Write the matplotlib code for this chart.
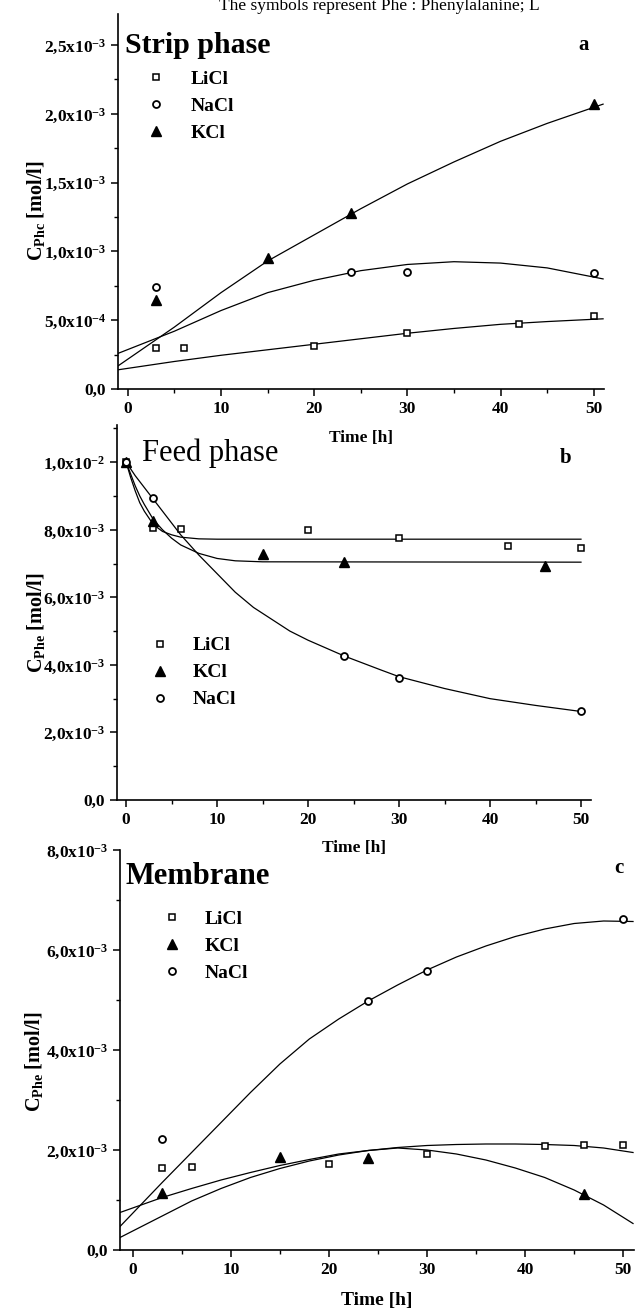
import numpy as np
from matplotlib import pyplot as plt
from matplotlib.ticker import MultipleLocator, FuncFormatter
from matplotlib.lines import Line2D

plt.rcParams['font.family'] = ['Liberation Serif', 'DejaVu Serif']
plt.rcParams['font.weight'] = 'bold'
plt.rcParams['axes.labelweight'] = 'bold'
plt.rcParams['mathtext.fontset'] = 'custom'
plt.rcParams['mathtext.rm'] = 'Liberation Serif:bold'
plt.rcParams['mathtext.bf'] = 'Liberation Serif:bold'
plt.rcParams['mathtext.it'] = 'Liberation Serif:italic:bold'
plt.rcParams['mathtext.default'] = 'rm'

# all concentrations in units of 1e-3 mol/l
# --- a: strip phase ---
a_li_t = [3, 6, 20, 30, 42, 50]
a_li_c = [0.30, 0.30, 0.31, 0.41, 0.475, 0.53]
a_na_t = [3, 24, 30, 50]
a_na_c = [0.74, 0.85, 0.85, 0.84]
a_k_t = [3, 15, 24, 50]
a_k_c = [0.65, 0.95, 1.28, 2.07]
a_fit_t = [-1, 5, 10, 15, 20, 25, 30, 35, 40, 45, 51]
a_li_fit = [0.14, 0.20, 0.245, 0.285, 0.325, 0.365, 0.405, 0.44, 0.47, 0.49, 0.51]
a_na_fit = [0.26, 0.42, 0.57, 0.70, 0.79, 0.86, 0.905, 0.925, 0.915, 0.88, 0.80]
a_k_fit = [0.17, 0.45, 0.70, 0.93, 1.12, 1.31, 1.49, 1.65, 1.80, 1.93, 2.07]

# --- b: feed phase ---
b_li_t = [0, 3, 6, 20, 30, 42, 50]
b_li_c = [10.0, 8.05, 8.03, 8.0, 7.75, 7.52, 7.45]
b_k_t = [0, 3, 15, 24, 46]
b_k_c = [10.0, 8.26, 7.27, 7.04, 6.92]
b_na_t = [0, 3, 24, 30, 50]
b_na_c = [10.0, 8.93, 4.26, 3.62, 2.64]
b_li_fit_t = [0, 0.5, 1, 1.5, 2, 3, 4, 5, 6, 8, 10, 50]
b_li_fit = [10.0, 9.55, 9.15, 8.8, 8.55, 8.15, 7.95, 7.85, 7.78, 7.73, 7.72, 7.72]
b_k_fit_t = [0, 0.5, 1, 1.5, 2, 3, 4, 5, 6, 8, 10, 12, 15, 50]
b_k_fit = [10.0, 9.65, 9.3, 9.0, 8.75, 8.3, 8.0, 7.75, 7.55, 7.3, 7.15, 7.08, 7.05, 7.04]
b_na_fit_t = [0, 1, 2, 3, 4, 5, 6, 8, 10, 12, 14, 16, 18, 20, 24, 28, 30, 35, 40, 45, 50]
b_na_fit = [10.0, 9.6, 9.25, 8.9, 8.55, 8.2, 7.85, 7.25, 6.7, 6.15, 5.7, 5.35, 5.0, 4.73,
            4.26, 3.85, 3.65, 3.3, 3.0, 2.8, 2.62]

# --- c: membrane ---
c_li_t = [3, 6, 20, 30, 42, 46, 50]
c_li_c = [1.65, 1.67, 1.72, 1.93, 2.08, 2.11, 2.11]
c_k_t = [3, 15, 24, 46]
c_k_c = [1.14, 1.87, 1.84, 1.12]
c_na_t = [3, 24, 30, 50]
c_na_c = [2.23, 4.98, 5.59, 6.62]
c_fit_t = [-1.3, 3, 6, 9, 12, 15, 18, 21, 24, 27, 30, 33, 36, 39, 42, 45, 48, 51]
c_li_fit = [0.25, 0.68, 0.98, 1.23, 1.45, 1.63, 1.78, 1.9, 1.99, 2.05, 2.09, 2.11, 2.12, 2.12, 2.11, 2.09, 2.04, 1.95]
c_k_fit = [0.75, 1.05, 1.23, 1.40, 1.55, 1.69, 1.81, 1.92, 1.99, 2.04, 2.0, 1.92, 1.80, 1.64, 1.45, 1.20, 0.90, 0.53]
c_na_fit = [0.47, 1.35, 1.95, 2.55, 3.15, 3.72, 4.22, 4.62, 4.98, 5.3, 5.6, 5.86, 6.08, 6.27, 6.42, 6.53, 6.58, 6.57]

S = 1e-3

def sci_label(v, pos):
	if abs(v) < 1e-12:
		return '0,0'
	e = int(np.floor(np.log10(abs(v)) + 1e-9))
	m = v / 10**e
	return ('%.1f' % m).replace('.', ',') + 'x10$^{' + str(e) + '}$'

def style_axis(ax, ymajor, yminor):
	ax.set_facecolor('none')
	for s in ['top', 'right']:
		ax.spines[s].set_visible(False)
	for s in ['left', 'bottom']:
		ax.spines[s].set_linewidth(1.2)
	ax.xaxis.set_major_locator(MultipleLocator(10))
	ax.xaxis.set_minor_locator(MultipleLocator(5))
	ax.yaxis.set_major_locator(MultipleLocator(ymajor))
	ax.yaxis.set_minor_locator(MultipleLocator(yminor))
	ax.yaxis.set_major_formatter(FuncFormatter(sci_label))
	ax.tick_params(which='major', direction='out', length=5, width=1.1, labelsize=12.5)
	ax.tick_params(which='minor', direction='out', length=3, width=1.0)

def draw(ax, t, c, kind):
	c = np.array(c) * S
	if kind == 'sq':
		ax.plot(t, c, 's', ms=5, mfc='white', mec='black', mew=1.1, ls='none', zorder=3)
	elif kind == 'ci':
		ax.plot(t, c, 'o', ms=5, mfc='white', mec='black', mew=1.3, ls='none', zorder=3)
	else:
		ax.plot(t, c, '^', ms=7.5, color='black', ls='none', zorder=3)

def fit(ax, t, c):
	ax.plot(t, np.array(c) * S, '-', color='black', lw=0.9)

def legend(ax, names, kinds, x, y, pad):
	h = []
	for k in kinds:
		if k == 'sq':
			h.append(Line2D([], [], marker='s', ms=5, mfc='white', mec='black', mew=1.1, ls='none'))
		elif k == 'ci':
			h.append(Line2D([], [], marker='o', ms=5, mfc='white', mec='black', mew=1.3, ls='none'))
		else:
			h.append(Line2D([], [], marker='^', ms=7.5, color='black', ls='none'))
	ax.legend(h, names, loc='upper left', bbox_to_anchor=(x, y), frameon=False,
		fontsize=14, handlelength=0.86, handletextpad=pad, labelspacing=0.48,
		borderpad=0, borderaxespad=0)

fig = plt.figure(figsize=(6.36, 13.12), dpi=100)

fig.text(219/636, 1 - 10/1312, 'The symbols represent Phe : Phenylalanine; L', fontsize=12.5,
	fontweight='normal', va='baseline', ha='left')

# panel a
ax = fig.add_axes([118/636, 1 - 389/1312, 486/636, 375/1312])
fit(ax, a_fit_t, a_li_fit)
fit(ax, a_fit_t, a_na_fit)
fit(ax, a_fit_t, a_k_fit)
draw(ax, a_li_t, a_li_c, 'sq')
draw(ax, a_na_t, a_na_c, 'ci')
draw(ax, a_k_t, a_k_c, 'tr')
ax.set_xlim(-1.05, 51.1)
ax.set_ylim(0, 2.725e-3)
style_axis(ax, 0.5e-3, 0.25e-3)
ax.set_xlabel('Time [h]', fontsize=12.5)
ax.xaxis.set_label_coords(0.5, -0.11)
ax.set_ylabel('C$_{\\mathrm{Phc}}$ [mol/l]', fontsize=14.5)
ax.yaxis.set_label_coords(-0.146, 0.475)
ax.text(0.014, 0.917, 'Strip phase', transform=ax.transAxes, fontsize=21.5, va='center', ha='left')
ax.text(0.957, 0.917, 'a', transform=ax.transAxes, fontsize=15, va='center', ha='center')
legend(ax, ['LiCl', 'NaCl', 'KCl'], ['sq', 'ci', 'tr'], 0.062, 0.85, 1.35)

# panel b
ax = fig.add_axes([117/636, 1 - 800/1312, 474/636, 375/1312])
fit(ax, b_li_fit_t, b_li_fit)
fit(ax, b_k_fit_t, b_k_fit)
fit(ax, b_na_fit_t, b_na_fit)
draw(ax, b_li_t, b_li_c, 'sq')
draw(ax, b_k_t, b_k_c, 'tr')
draw(ax, b_na_t, b_na_c, 'ci')
ax.set_xlim(-1.0, 51.1)
ax.set_ylim(0, 11.1e-3)
style_axis(ax, 2e-3, 1e-3)
ax.set_xlabel('Time [h]', fontsize=12.5)
ax.xaxis.set_label_coords(0.5, -0.107)
ax.set_ylabel('C$_{\\mathrm{Phe}}$ [mol/l]', fontsize=14.5)
ax.yaxis.set_label_coords(-0.148, 0.472)
ax.text(0.053, 0.925, 'Feed phase', transform=ax.transAxes, fontsize=22, fontweight='normal',
	va='center', ha='left')
ax.text(0.947, 0.912, 'b', transform=ax.transAxes, fontsize=15, va='center', ha='center')
legend(ax, ['LiCl', 'KCl', 'NaCl'], ['sq', 'tr', 'ci'], 0.073, 0.435, 1.25)

# panel c
ax = fig.add_axes([120/636, 1 - 1250/1312, 514/636, 400/1312])
fit(ax, c_fit_t, c_li_fit)
fit(ax, c_fit_t, c_k_fit)
fit(ax, c_fit_t, c_na_fit)
draw(ax, c_li_t, c_li_c, 'sq')
draw(ax, c_k_t, c_k_c, 'tr')
draw(ax, c_na_t, c_na_c, 'ci')
ax.set_xlim(-1.3, 51.1)
ax.set_ylim(0, 8.0e-3)
style_axis(ax, 2e-3, 1e-3)
ax.set_xlabel('Time [h]', fontsize=14)
ax.xaxis.set_label_coords(0.5, -0.105)
ax.set_ylabel('C$_{\\mathrm{Phe}}$ [mol/l]', fontsize=14.5)
ax.yaxis.set_label_coords(-0.146, 0.47)
ax.text(0.01, 0.9325, 'Membrane', transform=ax.transAxes, fontsize=22, va='center', ha='left')
ax.text(0.971, 0.955, 'c', transform=ax.transAxes, fontsize=15, va='center', ha='center')
legend(ax, ['LiCl', 'KCl', 'NaCl'], ['sq', 'tr', 'ci'], 0.085, 0.85, 1.25)

fig.savefig('out.png', dpi=100)
